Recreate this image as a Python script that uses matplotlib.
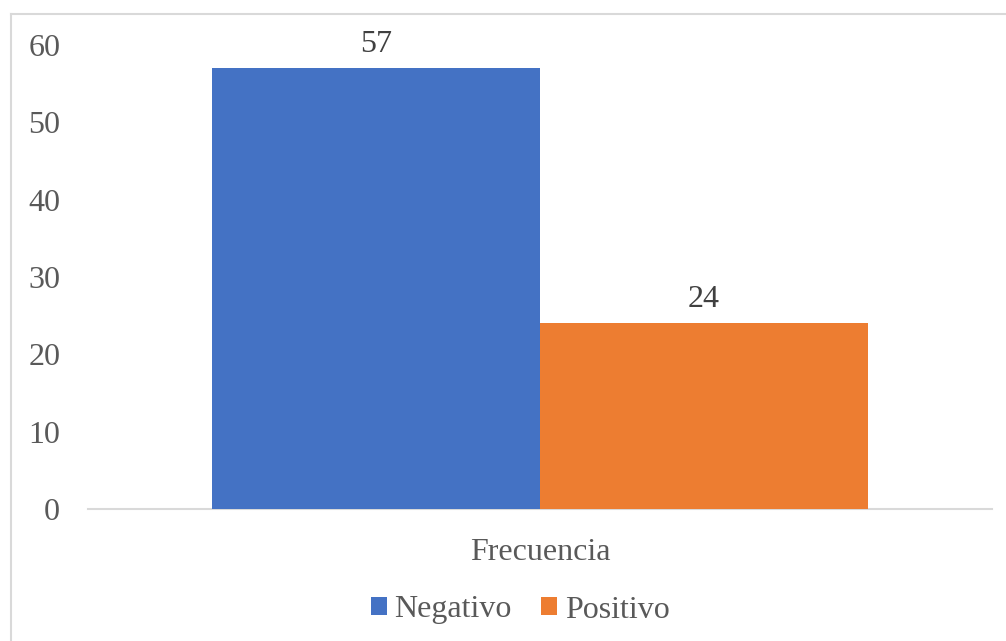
import matplotlib
matplotlib.use("Agg")
import matplotlib.pyplot as plt
from matplotlib.lines import Line2D
from matplotlib.patches import Patch

categories = ["Frecuencia"]
series_names = ["Negativo", "Positivo"]
negativo = [57]
positivo = [24]
colors = ["#4472C4", "#ED7D31"]
yticks = [0, 10, 20, 30, 40, 50, 60]

plt.rcParams['font.family'] = ['Liberation Serif', 'DejaVu Serif']

W, H = 1006, 641
FS = 23
fig = plt.figure(figsize=(W / 100, H / 100), dpi=100)
ax = fig.add_axes([88 / W, 1 - 509 / H, (992 - 88) / W, (509 - 45) / H])

bw = 0.3628
x0 = 0
vals = [negativo[0], positivo[0]]
offsets = [-bw / 2, bw / 2]
for v, off, c, name in zip(vals, offsets, colors, series_names):
    ax.bar(x0 + off, v, width=bw, color=c, label=name, zorder=2)
    ax.text(x0 + off, v + 1.2, str(v), ha="center", va="bottom",
            fontsize=FS, color="#404040")

ax.set_xlim(-0.5, 0.5)
ax.set_ylim(0, 60)
ax.set_yticks(yticks)
ax.set_yticklabels([str(t) for t in yticks], fontsize=FS, color="#595959")
ax.set_xticks([0])
ax.set_xticklabels(categories, fontsize=FS, color="#595959")
ax.tick_params(axis="y", length=0, pad=20)
ax.tick_params(axis="x", length=0, pad=21)
for s in ["left", "right", "top"]:
    ax.spines[s].set_visible(False)
ax.spines["bottom"].set_color("#D9D9D9")
ax.spines["bottom"].set_linewidth(1.5)
ax.spines["bottom"].set_zorder(1)

handles = [Patch(facecolor=c, edgecolor="none") for c in colors]
leg = fig.legend(handles, series_names, loc="center", bbox_to_anchor=(520 / W, 1 - 610 / H),
                 ncol=2, frameon=False, fontsize=FS, handlelength=0.5, handleheight=0.5,
                 handletextpad=0.25, columnspacing=0.9)
for t in leg.get_texts():
    t.set_color("#595959")

# chart border (top and left visible)
fig.add_artist(Line2D([10.5 / W, 10.5 / W], [0, 1 - 13.5 / H], transform=fig.transFigure,
                      color="#D9D9D9", linewidth=1.5))
fig.add_artist(Line2D([10.5 / W, 1], [1 - 13.5 / H, 1 - 13.5 / H], transform=fig.transFigure,
                      color="#D9D9D9", linewidth=1.5))

fig.savefig("out.png", dpi=100)
